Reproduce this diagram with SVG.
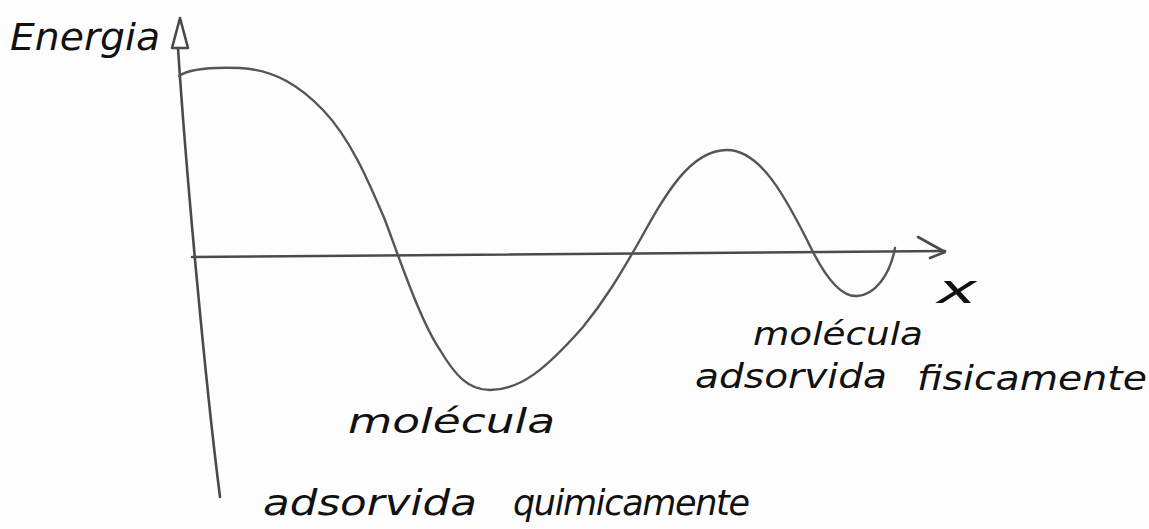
<svg xmlns="http://www.w3.org/2000/svg" width="1149" height="529" viewBox="0 0 1149 529">
<style>
.ax{fill:none;stroke:#4a4a4a;stroke-width:2.6;stroke-linecap:round;stroke-linejoin:round}
.cv{fill:none;stroke:#555;stroke-width:2.4;stroke-linecap:round;stroke-linejoin:round}
.hw{font-family:"DejaVu Sans","Liberation Sans",sans-serif;font-style:italic;fill:#111}
</style>
<rect width="1149" height="529" fill="#fdfdfd"/>
<g id="axes">
<path class="ax" d="M178,48 C186,170 205,380 220,497"/>
<polygon class="ax" points="172,48 180,18 188,48"/>
<path class="ax" d="M192,257 L945,251"/>
<path class="ax" d="M918,237 L945,252 L930,258"/>
</g>
<g id="curve">
<path class="cv" d="M179,76 C190,68 215,67 240,68 C275,70 300,86 323,110 C350,138 368,180 385,220 C400,260 420,320 440,350 C455,375 468,390 490,390 C520,390 545,370 583,327 C605,300 620,275 640,240 C665,195 690,150 727,150 C760,150 785,195 813,252 C830,285 845,297 857,296 C875,295 890,275 895,248"/>
</g>
<g id="label-energia"><text class="hw" x="10" y="50" font-size="38" textLength="150" lengthAdjust="spacingAndGlyphs">Energia</text></g>
<g id="label-x"><text class="hw" x="937" y="303" font-size="40" textLength="40" lengthAdjust="spacingAndGlyphs">x</text></g>
<g id="label-fisica">
<text class="hw" x="753" y="345" font-size="32" textLength="170" lengthAdjust="spacingAndGlyphs">molécula</text>
<text class="hw" x="695" y="388" font-size="34" textLength="192" lengthAdjust="spacingAndGlyphs">adsorvida</text>
<text class="hw" x="917" y="390" font-size="34" textLength="230" lengthAdjust="spacingAndGlyphs">fisicamente</text>
</g>
<g id="label-quimica">
<text class="hw" x="348" y="433" font-size="34" textLength="207" lengthAdjust="spacingAndGlyphs">molécula</text>
<text class="hw" x="263" y="515" font-size="35" textLength="214" lengthAdjust="spacingAndGlyphs">adsorvida</text>
<text class="hw" x="513" y="515" font-size="35" textLength="237" lengthAdjust="spacing">quimicamente</text>
</g>
</svg>
